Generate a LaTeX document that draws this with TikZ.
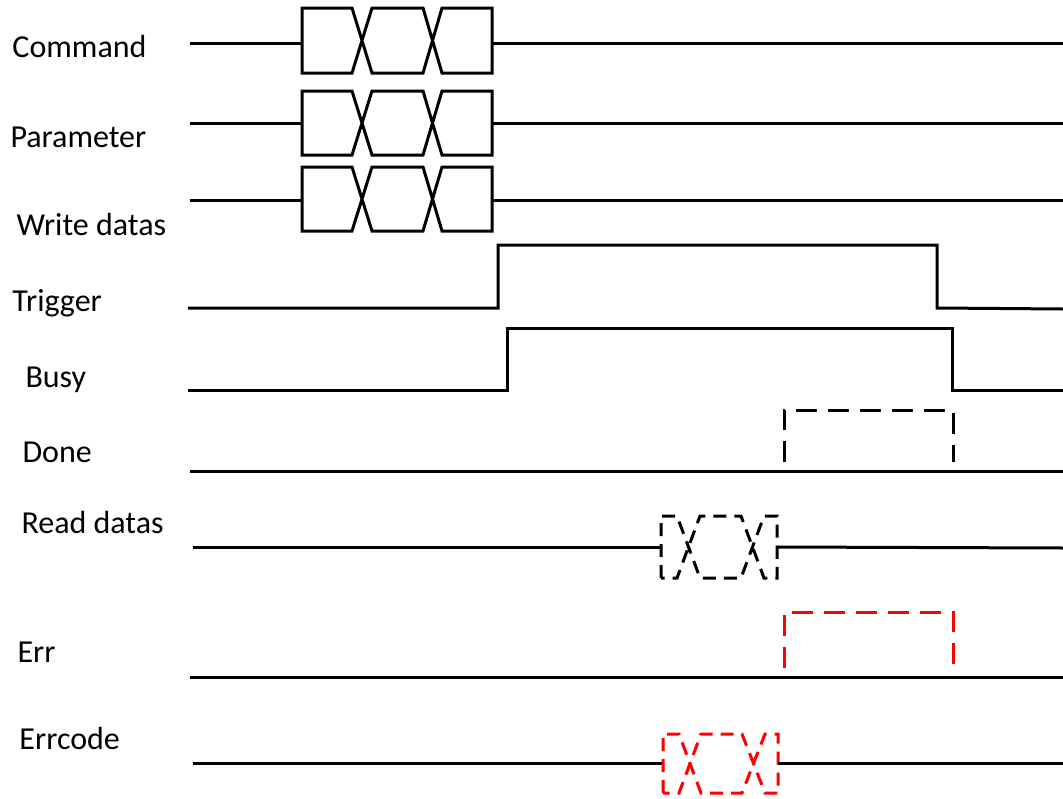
\documentclass[tikz,border=0pt]{standalone}
\usepackage{fontspec}
\setmainfont{Carlito}
\usetikzlibrary{positioning}

\begin{document}
\begin{tikzpicture}[x=1pt, y=-1pt, line width=3pt, line join=miter,
	lbl/.style={anchor=base west, inner sep=0pt, font=\fontsize{32}{38}\selectfont},
	wire/.style={draw=black},
	dbus/.style={dash pattern=on 13pt off 8pt},
	dbox/.style={dash pattern=on 21pt off 11pt},
]
\useasboundingbox (0,0) rectangle (1063,798);
% labels
\node [lbl] (cmd)  at (11,57)  {Command};
\node [lbl] (par)  at (9,147)  {Parameter};
\node [lbl] (wd)   at (15,235) {Write datas};
\node [lbl] (trg)  at (11,311) {Trigger};
\node [lbl] (busy) at (24,387) {Busy};
\node [lbl] (done) at (21,462) {Done};
\node [lbl] (rd)   at (20,533) {Read datas};
\node [lbl] (err)  at (16,662) {Err};
\node [lbl] (ec)   at (18,749) {Errcode};
%
% write side buses
\foreach \m/\t/\b in {43/8/73, 123/91/155, 200/167/231} {
	\draw [wire] (190,\m) -- (302,\m);
	\draw [wire] (302,\b) -- (302,\t) -- (352,\t) -- (372,\b) -- (423,\b)
		-- (442,\t) -- (492,\t) -- (492,\b) -- (442,\b) -- (423,\t)
		-- (372,\t) -- (352,\b) -- cycle;
	\draw [wire] (492,\m) -- (1063,\m);
}
%
% trigger and busy
\draw [wire] (188,308) -- (498,308) -- (498,245) -- (937,245) -- (937,308) -- (1063,309);
\draw [wire] (188,390) -- (507,390) -- (507,328) -- (952,328) -- (952,390) -- (1063,390);
%
% done
\draw [wire] (190,471) -- (1063,471);
\draw [wire, dbox] (784,462) -- (784,410) -- (953,410) -- (953,462);
%
% read datas
\draw [wire] (193,547) -- (661,547);
\draw [wire, dbus] (661,578) -- (661,516) -- (677,516) -- (700,578) -- (741,578)
	-- (764,516) -- (777,516) -- (777,578) -- (764,578) -- (741,516)
	-- (700,516) -- (677,578) -- cycle;
\draw [wire] (777,547) -- (1063,548);
%
% err
\draw [wire] (190,677) -- (1063,677);
\draw [wire, red, dbox] (784,668) -- (784,612) -- (953,612) -- (953,668);
%
% errcode
\draw [wire] (193,763) -- (663,763);
\draw [wire, red, dbus] (663,793) -- (663,734) -- (679,734) -- (701,793) -- (742,793)
	-- (765,734) -- (778,734) -- (778,793) -- (765,793) -- (742,734)
	-- (701,734) -- (679,793) -- cycle;
\draw [wire] (778,763) -- (1063,763);
\end{tikzpicture}
\end{document}
